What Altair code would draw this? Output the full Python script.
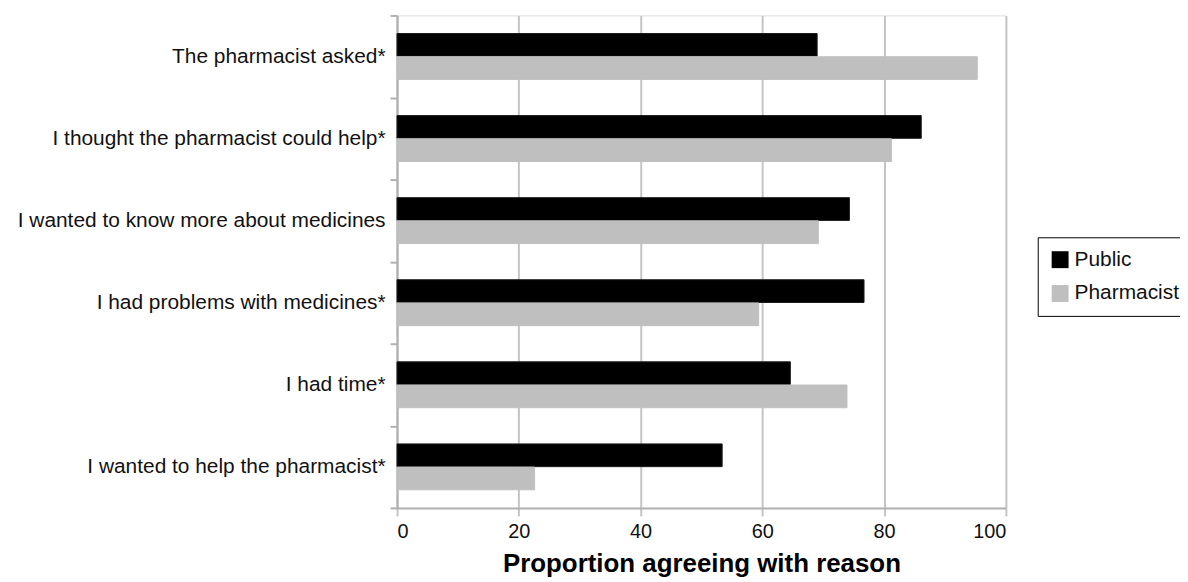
import altair as alt
import pandas as pd

categories = [
    "The pharmacist asked*",
    "I thought the pharmacist could help*",
    "I wanted to know more about medicines",
    "I had problems with medicines*",
    "I had time*",
    "I wanted to help the pharmacist*",
]
series_names = ["Public", "Pharmacist"]
public_values = [69.0, 86.1, 74.3, 76.7, 64.6, 53.4]
pharmacist_values = [95.3, 81.2, 69.2, 59.4, 73.9, 22.6]
x_ticks = [0, 20, 40, 60, 80, 100]

rows = []
for c, p, ph in zip(categories, public_values, pharmacist_values):
    rows.append({"reason": c, "group": "Public", "value": p})
    rows.append({"reason": c, "group": "Pharmacist", "value": ph})
df = pd.DataFrame(rows)

FONT = "Liberation Sans"

bars = alt.Chart(df).mark_bar(strokeWidth=1).encode(
    x=alt.X(
        "value:Q",
        scale=alt.Scale(domain=[0, 100], nice=False),
        axis=alt.Axis(
            values=x_ticks,
            title="Proportion agreeing with reason",
            grid=True,
            gridColor="#c4c4c4",
            gridWidth=2,
            domainColor="#b0b0b0",
            domainWidth=2,
            tickColor="#c4c4c4",
            tickWidth=2,
            tickSize=8,
            labelFont=FONT,
            labelFontSize=20,
            labelColor="#111111",
            labelPadding=6,
            titleFont=FONT,
            titleFontSize=26,
            titleFontWeight="bold",
            titleColor="#000000",
            titlePadding=9,
        ),
    ),
    y=alt.Y(
        "reason:N",
        sort=categories,
        scale=alt.Scale(paddingInner=0, paddingOuter=0),
        axis=alt.Axis(
            title=None,
            tickBand="extent",
            ticks=True,
            tickSize=7,
            tickColor="#b0b0b0",
            tickWidth=2,
            domainColor="#b0b0b0",
            domainWidth=2,
            grid=False,
            labelFont=FONT,
            labelFontSize=21,
            labelColor="#111111",
            labelPadding=5,
            labelLimit=600,
        ),
    ),
    yOffset=alt.YOffset(
        "group:N",
        sort=series_names,
        scale=alt.Scale(paddingInner=0.02, paddingOuter=0.78),
    ),
    color=alt.Color(
        "group:N",
        sort=series_names,
        scale=alt.Scale(domain=series_names, range=["#000000", "#bfbfbf"]),
        legend=alt.Legend(
            title=None,
            orient="none",
            legendX=644,
            legendY=223,
            strokeColor="#000000",
            fillColor="#ffffff",
            padding=12,
            symbolType="square",
            symbolSize=289,
            symbolStrokeWidth=0,
            labelFont=FONT,
            labelFontSize=21,
            labelColor="#111111",
            labelOffset=4,
            rowPadding=12,
        ),
    ),
    stroke=alt.Stroke(
        "group:N",
        sort=series_names,
        scale=alt.Scale(domain=series_names, range=["#1a1a1a", "#bfbfbf"]),
        legend=None,
    ),
)

chart = (
    alt.layer(bars)
    .properties(
        width=612,
        height=495,
        autosize="none",
        padding={"left": 391, "top": 6, "right": 175, "bottom": 70},
    )
    .configure_view(stroke=None)
    .configure(background="#ffffff")
)

chart.save("out.html", embed_options={"renderer": "svg", "actions": False})
